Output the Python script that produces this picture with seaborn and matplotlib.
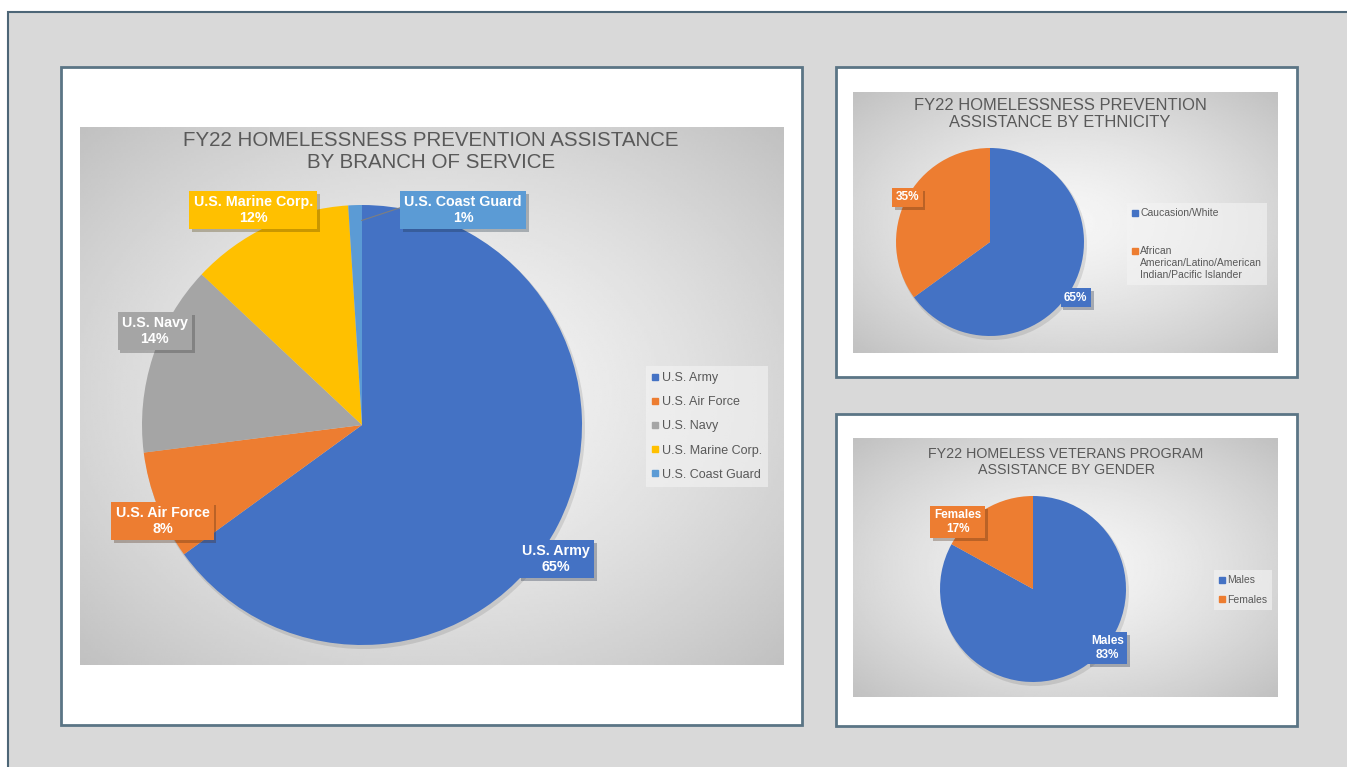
import numpy as np
import matplotlib
matplotlib.use("Agg")
import matplotlib.pyplot as plt
import matplotlib.patheffects as pe
from matplotlib.patches import Rectangle, Circle
from matplotlib.lines import Line2D
from matplotlib.legend_handler import HandlerLine2D
import seaborn as sns

# data
branch_names = ["U.S. Army", "U.S. Air Force", "U.S. Navy", "U.S. Marine Corp.", "U.S. Coast Guard"]
branch_pct = [65, 8, 14, 12, 1]
eth_names = ["Caucasion/White", "African\nAmerican/Latino/American\nIndian/Pacific Islander"]
eth_pct = [65, 35]
gender_names = ["Males", "Females"]
gender_pct = [83, 17]

sns.set_style("white")
plt.rcParams["font.family"] = ["Liberation Sans", "DejaVu Sans"]

office = sns.color_palette(["#4472C4", "#ED7D31", "#A5A5A5", "#FFC000", "#5B9BD5"])
TXT = "#595959"

W, H = 1347, 767
fig = plt.figure(figsize=(W / 100, H / 100), dpi=100)

# page background + panel frames (pixel coords)
bg = fig.add_axes([0, 0, 1, 1])
bg.set_xlim(0, W)
bg.set_ylim(H, 0)
bg.axis("off")
bg.add_patch(Rectangle((8, 12), W, H, fc="#d9d9d9", ec="#4d6677", lw=1.5))
for x0, y0, x1, y1 in [(61, 67, 802, 725), (836, 67, 1297, 377), (836, 414, 1297, 726)]:
    bg.add_patch(Rectangle((x0, y0), x1 - x0, y1 - y0, fc="white", ec="#5b7585", lw=2))


class TopLineHandler(HandlerLine2D):
    # puts the marker next to the first line of a multi-line legend entry
    def __init__(self, shift, **kw):
        super().__init__(**kw)
        self.shift = shift

    def create_artists(self, legend, orig_handle, xdescent, ydescent, width, height,
                       fontsize, trans):
        arts = super().create_artists(legend, orig_handle, xdescent, ydescent, width,
                                      height, fontsize, trans)
        for a in arts:
            a.set_ydata(np.asarray(a.get_ydata()) + self.shift * fontsize)
        return arts


def chart(box, center, radius, values, names, colors, title, title_xy, title_size,
          label_text, label_size, offsets, leg_xy, leg_size, leg_spacing, leader=None):
    x0, y0, x1, y1 = box
    ax = fig.add_axes([x0 / W, 1 - y1 / H, (x1 - x0) / W, (y1 - y0) / H])

    # soft radial background like the office chart style
    gx, gy = np.meshgrid(np.linspace(-1, 1, 300), np.linspace(-1, 1, 200))
    d = np.sqrt(gx ** 2 + gy ** 2) / np.sqrt(2)
    shade = 0.965 - 0.21 * d ** 1.4
    ax.imshow(shade, cmap="gray", vmin=0, vmax=1, extent=(x0, x1, H - y1, H - y0),
              aspect="auto", interpolation="bilinear", zorder=0)

    cx, cy = center[0], H - center[1]
    ax.add_patch(Circle((cx + 2, cy - 3), radius + 1, fc="black", alpha=0.1, lw=0, zorder=1))
    wedges, _ = ax.pie(values, colors=colors, startangle=90, counterclock=False,
                       center=(cx, cy), radius=radius, frame=True,
                       wedgeprops=dict(linewidth=0, zorder=2))
    ax.set_xlim(x0, x1)
    ax.set_ylim(H - y1, H - y0)
    ax.set_aspect("auto")
    ax.axis("off")

    ax.text(title_xy[0], H - title_xy[1], title, ha="center", va="center",
            fontsize=title_size, color=TXT, linespacing=1.2, zorder=5)

    for i, w in enumerate(wedges):
        mid = np.deg2rad((w.theta1 + w.theta2) / 2)
        dx, dy = offsets[i]
        lx = cx + radius * np.cos(mid) + dx
        ly = cy + radius * np.sin(mid) - dy
        t = ax.text(lx, ly, label_text(names[i], values[i]), ha="center", va="center",
                    fontsize=label_size, fontweight="bold", color="white",
                    linespacing=1.15, zorder=6,
                    bbox=dict(boxstyle="square,pad=0.3", fc=colors[i], ec="none"))
        t.get_bbox_patch().set_path_effects(
            [pe.SimplePatchShadow(offset=(2, -2), alpha=0.3), pe.Normal()])
        if leader is not None and leader[i]:
            ax.plot([cx + radius * 0.93 * np.cos(mid) + 6, lx - 58],
                    [cy + radius * 0.93 * np.sin(mid), ly + 4],
                    color="#7f7f7f", lw=0.8, zorder=4)

    handles = [Line2D([], [], marker="s", ls="none", color=c, markersize=4) for c in colors]
    hmap = {}
    for h, n in zip(handles, names):
        extra = n.count("\n")
        if extra:
            hmap[h] = TopLineHandler(shift=0.58 * extra)
    leg = ax.legend(handles, [n for n in names], loc="upper left",
                    bbox_to_anchor=(leg_xy[0] / W, 1 - leg_xy[1] / H),
                    bbox_transform=fig.transFigure, borderaxespad=0, handler_map=hmap,
                    frameon=True, fancybox=False, facecolor="#f4f4f4", edgecolor="none",
                    framealpha=0.6, fontsize=leg_size, labelcolor=TXT,
                    handlelength=0.5, handletextpad=0.25, labelspacing=leg_spacing,
                    borderpad=0.5)
    leg.set_zorder(7)
    return ax


chart((80, 127, 784, 665), (362, 425), 220, branch_pct, branch_names, office,
      "FY22 HOMELESSNESS PREVENTION ASSISTANCE\nBY BRANCH OF SERVICE", (431, 152), 14.8,
      lambda n, v: f"{n}\n{v}%", 10.3,
      [(-2, 34), (5, 15), (2, -26), (-15, -16), (108, 5)],
      (646, 366), 9, 0.97, leader=[False, False, False, False, True])

chart((853, 92, 1278, 353), (990, 242), 94, eth_pct, eth_names, office[:2],
      "FY22 HOMELESSNESS PREVENTION\nASSISTANCE BY ETHNICITY", (1060, 114), 11.9,
      lambda n, v: f"{v}%", 8.5,
      [(2, 13), (1, -2)],
      (1127, 203), 7.5, 2.7)

chart((853, 438, 1278, 697), (1033, 589), 93, gender_pct, gender_names, office[:2],
      "FY22 HOMELESS VETERANS PROGRAM\nASSISTANCE BY GENDER", (1066, 462), 10.3,
      lambda n, v: f"{n}\n{v}%", 8.5,
      [(27, -21), (-28, 13)],
      (1214, 570), 7.5, 0.95)

fig.savefig("out.png", dpi=100)
